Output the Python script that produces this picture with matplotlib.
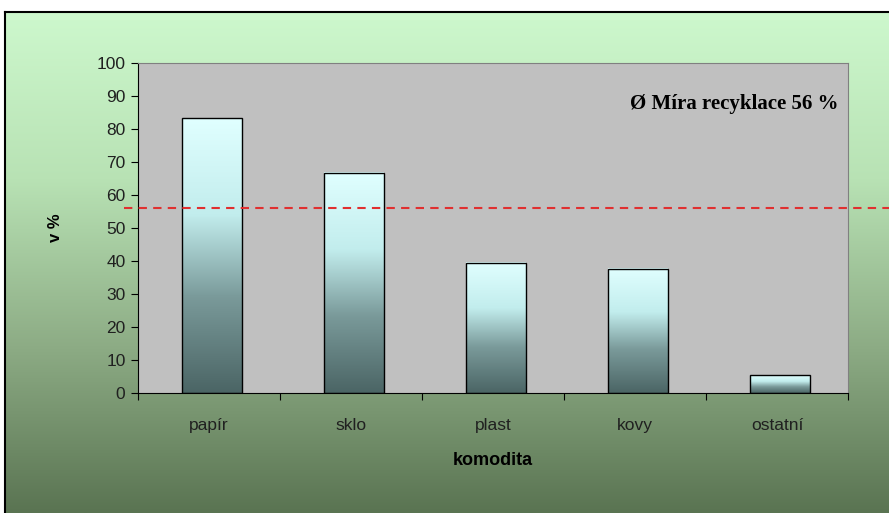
import numpy as np
import matplotlib.pyplot as plt
from matplotlib.colors import LinearSegmentedColormap
from matplotlib.lines import Line2D

categories = ['papír', 'sklo', 'plast', 'kovy', 'ostatní']
values = [83.2, 66.8, 39.5, 37.6, 5.4]
average = 56
avg_label = 'Ø Míra recyklace 56 %'

W, H = 889, 513
fig = plt.figure(figsize=(W / 100, H / 100), dpi=100)
fig.patch.set_facecolor('white')

# background gradient (light green top -> dark green bottom)
bg = fig.add_axes([5 / W, 0, 1 - 5 / W, 1 - 12 / H], zorder=0)
bg_cmap = LinearSegmentedColormap.from_list(
    'bg', ['#5a7452', '#8dac85', '#b8e2b4', '#cdf8cd'])
grad = np.linspace(0, 1, 256).reshape(-1, 1)
bg.imshow(grad, aspect='auto', cmap=bg_cmap, origin='lower',
          extent=[0, 1, 0, 1])
bg.set_axis_off()

# frame lines (left and top)
fig.add_artist(Line2D([5 / W, 5 / W], [0, 1 - 12 / H], color='black', lw=1.5))
fig.add_artist(Line2D([5 / W, 1], [1 - 12 / H, 1 - 12 / H], color='black', lw=1.5))

left, right, top, bottom = 138, 848, 63, 393
ax = fig.add_axes([left / W, 1 - bottom / H, (right - left) / W, (bottom - top) / H],
                  zorder=1)
ax.set_facecolor('#c0c0c0')

x = np.arange(len(categories))
width = 0.42
bar_cmap = LinearSegmentedColormap.from_list(
    'bar', [(0, '#4b6565'), (0.35, '#7a9a9a'), (0.65, '#c2eded'), (1, '#e0ffff')])
bars = ax.bar(x + 0.02, values, width, facecolor='none', edgecolor='black', lw=1,
              zorder=3)
for b, v in zip(bars, values):
    x0 = b.get_x()
    ax.imshow(grad, aspect='auto', cmap=bar_cmap, origin='lower',
              extent=[x0, x0 + width, 0, v], zorder=2)

ax.set_xlim(-0.5, len(categories) - 0.5)
ax.set_ylim(0, 100)
ax.set_yticks(range(0, 101, 10))
ax.set_xticks(np.arange(len(categories) + 1) - 0.5, minor=False)
ax.set_xticklabels([])
ax.set_xticks(x, minor=True)
ax.set_xticklabels(categories, minor=True)
ax.tick_params(axis='x', which='minor', length=0, pad=18)
ax.tick_params(axis='x', which='major', length=5, direction='out')
ax.tick_params(axis='y', length=5, direction='out', pad=4)
for lab in ax.get_yticklabels() + ax.get_xticklabels(minor=True):
    lab.set_fontfamily('Liberation Sans')
    lab.set_fontsize(12.5)
    lab.set_color('#202020')
for s in ['top', 'right']:
    ax.spines[s].set_color('#808080')
for s in ['left', 'bottom']:
    ax.spines[s].set_color('black')

ax.set_xlabel('komodita', fontsize=13, fontweight='bold',
              fontfamily='Liberation Sans', labelpad=14)
ax.set_ylabel('v %', fontsize=12, fontweight='bold',
              fontfamily='Liberation Sans', labelpad=24)

# average line extends past the axes
ax.axhline(average, xmin=-0.02, xmax=1.07, color='#e03030', ls=(0, (4, 3)),
           lw=1.5, clip_on=False, zorder=4)
ax.text(0.84, 0.875, avg_label, transform=ax.transAxes, ha='center', va='center',
        fontsize=15, fontweight='bold', fontfamily='Liberation Serif')

fig.savefig('out.png', dpi=100)
